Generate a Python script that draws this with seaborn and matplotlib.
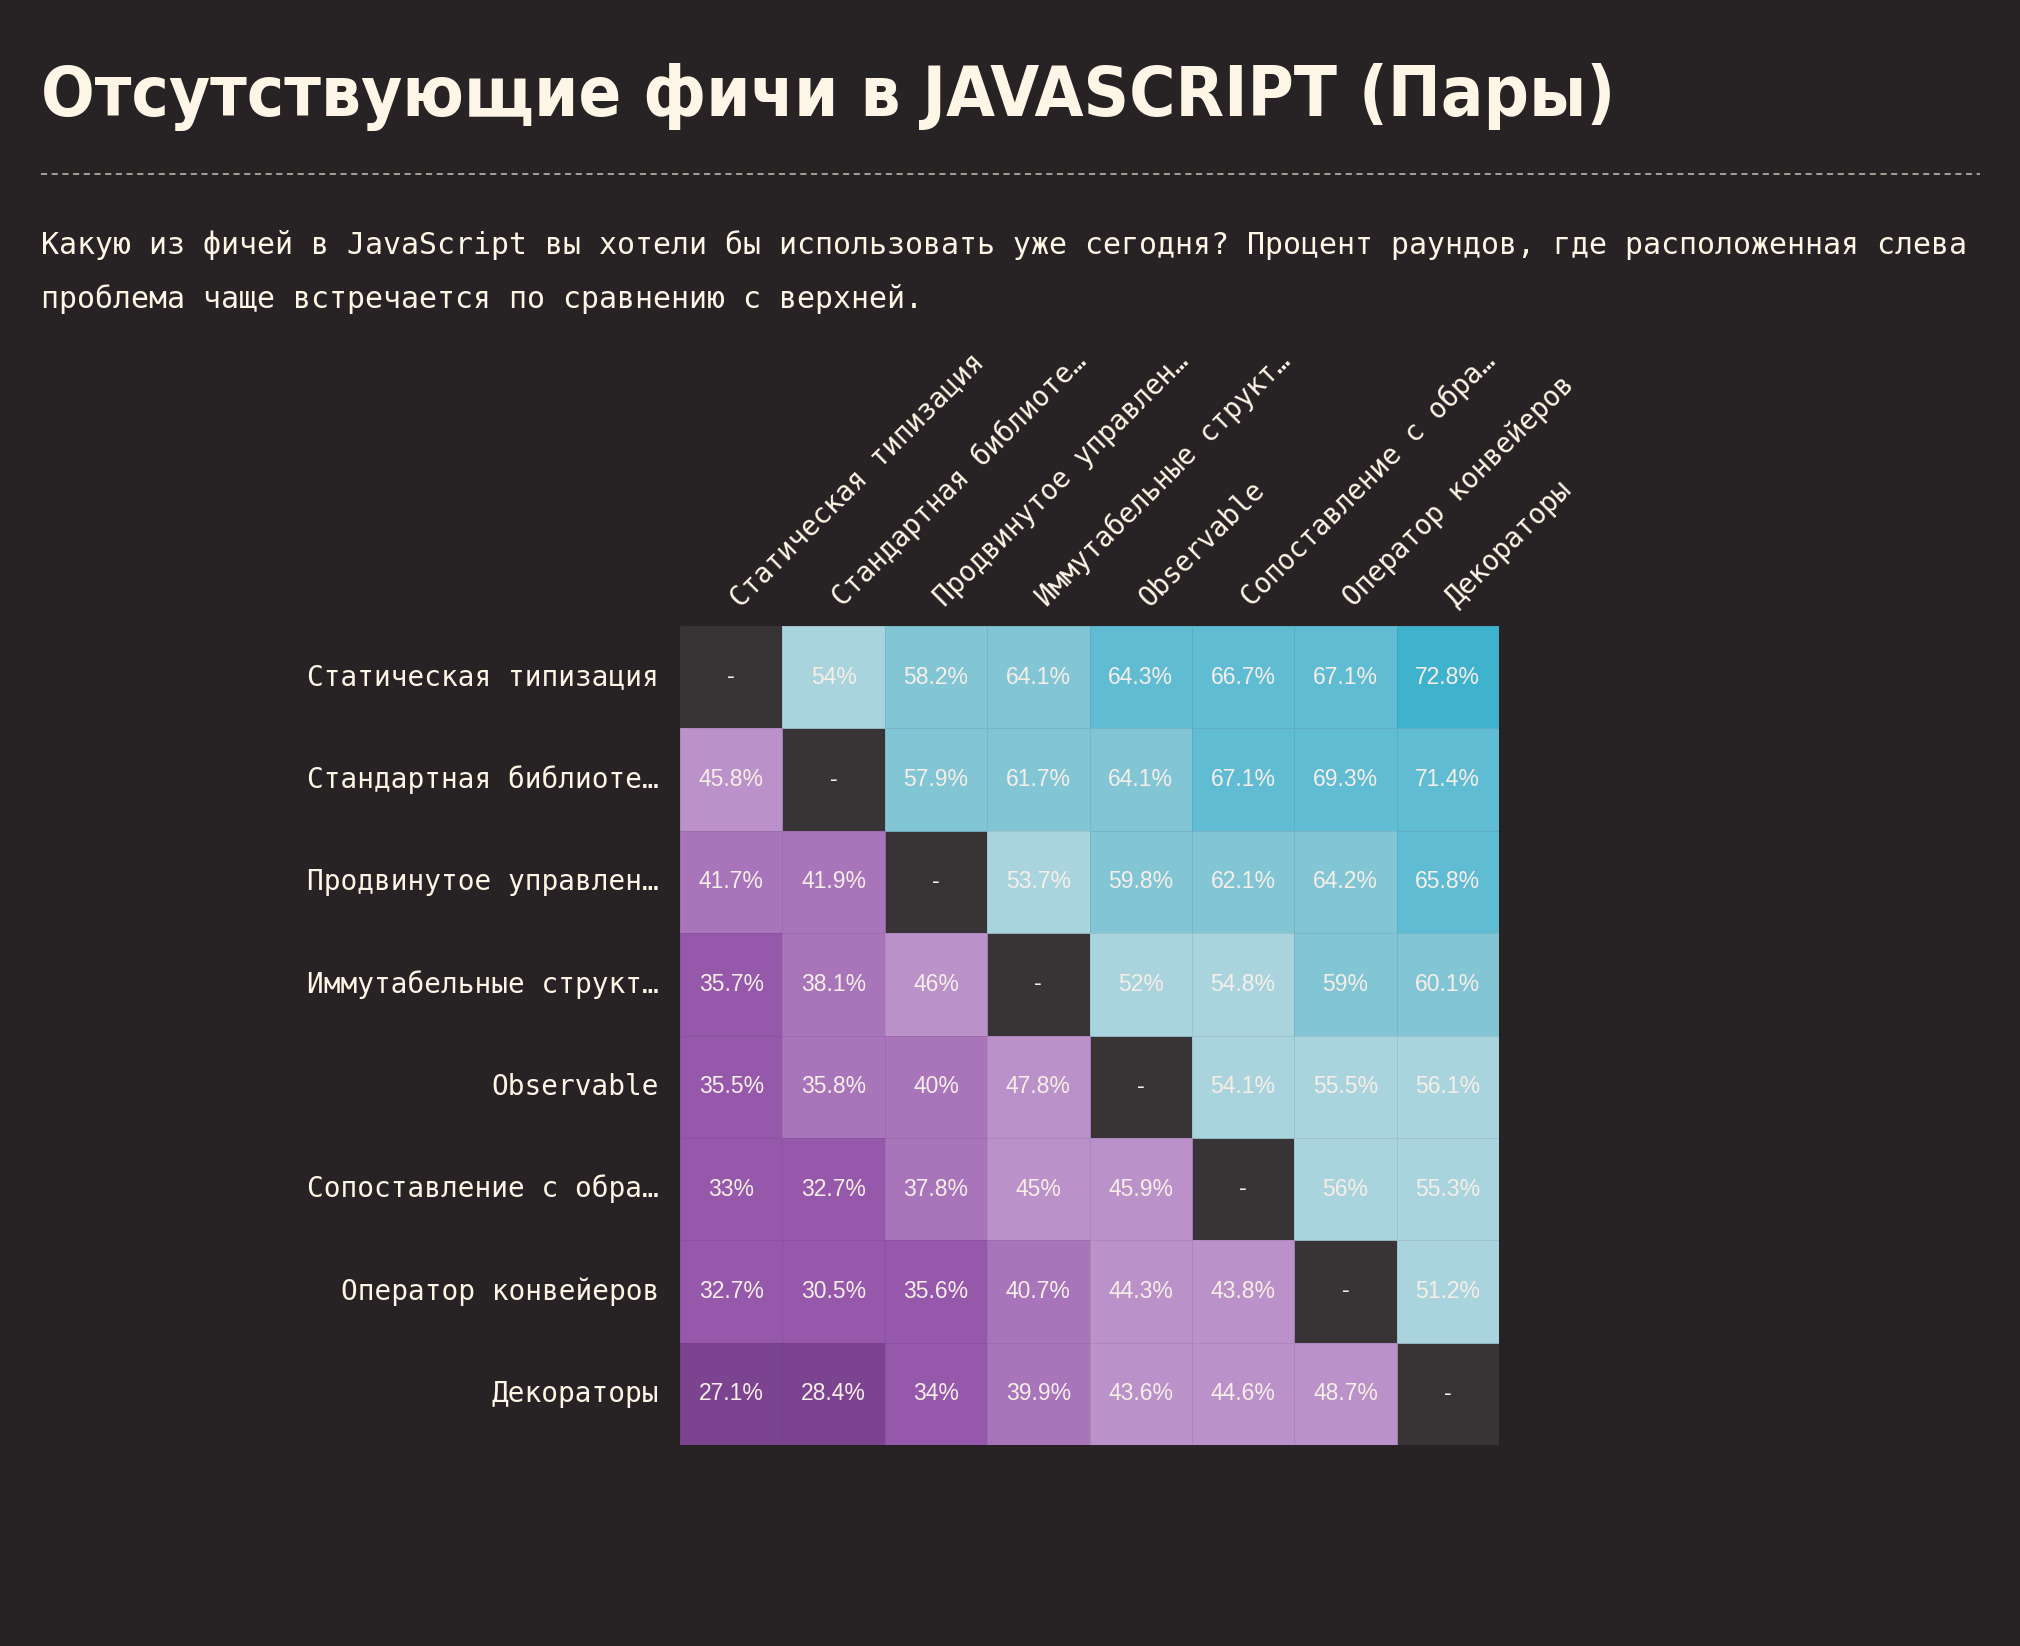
import numpy as np
import pandas as pd
import matplotlib
matplotlib.use("Agg")
import matplotlib.pyplot as plt
from matplotlib.colors import ListedColormap, BoundaryNorm
from matplotlib.lines import Line2D
from matplotlib.transforms import ScaledTranslation
from matplotlib import font_manager as fm
import seaborn as sns

# labels (left = rows, top = columns)
row_labels = ["Статическая типизация", "Стандартная библиоте…", "Продвинутое управлен…",
              "Иммутабельные структ…", "Observable", "Сопоставление с обра…",
              "Оператор конвейеров", "Декораторы"]
col_labels = ["Статическая типизация", "Стандартная библиоте…", "Продвинутое управлен…",
              "Иммутабельные структ…", "Observable", "Сопоставление с обра…",
              "Оператор конвейеров", "Декораторы"]

# percent of rounds where the left feature wins against the top one
static_typing = [None, 54, 58.2, 64.1, 64.3, 66.7, 67.1, 72.8]
std_library = [45.8, None, 57.9, 61.7, 64.1, 67.1, 69.3, 71.4]
adv_control = [41.7, 41.9, None, 53.7, 59.8, 62.1, 64.2, 65.8]
immutable = [35.7, 38.1, 46, None, 52, 54.8, 59, 60.1]
observable = [35.5, 35.8, 40, 47.8, None, 54.1, 55.5, 56.1]
pattern_match = [33, 32.7, 37.8, 45, 45.9, None, 56, 55.3]
pipeline_op = [32.7, 30.5, 35.6, 40.7, 44.3, 43.8, None, 51.2]
decorators = [27.1, 28.4, 34, 39.9, 43.6, 44.6, 48.7, None]

title = "Отсутствующие фичи в JAVASCRIPT (Пары)"
subtitle_1 = "Какую из фичей в JavaScript вы хотели бы использовать уже сегодня? Процент раундов, где расположенная слева"
subtitle_2 = "проблема чаще встречается по сравнению с верхней."

bg = "#272325"
cream = "#fdf5e6"
diag_col = "#383436"
bins = [0, 28.57, 35.71, 42.86, 50, 57.14, 64.29, 71.43, 100]
palette = ["#7c4391", "#9558ab", "#a874ba", "#bb91c9",
           "#aad4dd", "#82c6d5", "#60bcd3", "#3fb2cd"]

rows = [static_typing, std_library, adv_control, immutable,
        observable, pattern_match, pipeline_op, decorators]
df = pd.DataFrame([[np.nan if v is None else v for v in r] for r in rows],
                  index=row_labels, columns=col_labels)
annot = np.array([["" if v is None else f"{v:g}%" for v in r] for r in rows])

cmap = ListedColormap(palette)
norm = BoundaryNorm(bins, cmap.N)

W, H = 2020, 1646
fig = plt.figure(figsize=(W / 100, H / 100), dpi=100, facecolor=bg)
ax = fig.add_axes([680 / W, 1 - 1445 / H, 819 / W, 819 / H])
ax.set_facecolor(diag_col)

sns.heatmap(df, ax=ax, cmap=cmap, norm=norm, annot=annot, fmt="", cbar=False,
            linewidths=0.6, linecolor=(0.2, 0.15, 0.25, 0.1),
            annot_kws={"family": "Liberation Sans", "size": 16.5, "color": "#f6eee8"})

# diagonal cells: no comparison
for i in range(len(row_labels)):
    ax.text(i + 0.5, i + 0.5, "-", ha="center", va="center",
            family="Liberation Sans", size=17, color="#f6eee8")

mono = "DejaVu Sans Mono"
ax.xaxis.tick_top()
ax.set_xticks(np.arange(len(col_labels)) + 0.5)
ax.set_xticklabels(col_labels, rotation=45, ha="left", va="bottom",
                   rotation_mode="anchor", family=mono, size=19.8, color=cream)
ax.set_yticks(np.arange(len(row_labels)) + 0.5)
ax.set_yticklabels(row_labels, rotation=0, family=mono, size=20, color=cream)
ax.tick_params(axis="x", length=0, pad=10)
ax.tick_params(axis="y", length=0, pad=15)
shift = ScaledTranslation(0.13, 0, fig.dpi_scale_trans)
for lab in ax.get_xticklabels():
    lab.set_transform(lab.get_transform() + shift)
ax.set_xlabel("")
ax.set_ylabel("")
for s in ax.spines.values():
    s.set_visible(False)

# pick a condensed bold face for the title if one is installed
title_fp = fm.FontProperties(family="DejaVu Sans", weight="bold")
cyr_ok = ("Liberation Sans Narrow", "DejaVu Sans", "Noto Sans", "Roboto", "Open Sans")
for f in fm.fontManager.ttflist:
    narrow = ("Condensed" in f.fname or "Narrow" in f.fname or
              f.stretch in ("condensed", "semi-condensed"))
    bold = f.weight in ("bold", 700, 600, "semibold", "demibold") or "Bold" in f.fname
    if narrow and bold and "Italic" not in f.fname and "Oblique" not in f.fname \
            and any(f.name.startswith(n) for n in cyr_ok):
        title_fp = fm.FontProperties(fname=f.fname)
        break

t = fig.text(41 / W, 1 - 116 / H, title, fontproperties=title_fp, size=62,
             color=cream, va="baseline", ha="left")
fig.canvas.draw()
tw = t.get_window_extent().width
if tw > 1576:
    t.set_fontsize(62 * 1576 / tw)

fig.add_artist(Line2D([41 / W, 1980 / W], [1 - 174 / H, 1 - 174 / H],
                      transform=fig.transFigure, color="#c9c1b8",
                      lw=1.1, linestyle=(0, (4, 3))))

fig.text(41 / W, 1 - 245 / H, subtitle_1, family=mono, size=21.5,
         color=cream, va="center", ha="left")
fig.text(41 / W, 1 - 299 / H, subtitle_2, family=mono, size=21.5,
         color=cream, va="center", ha="left")

fig.savefig("out.png", dpi=100, facecolor=bg)
